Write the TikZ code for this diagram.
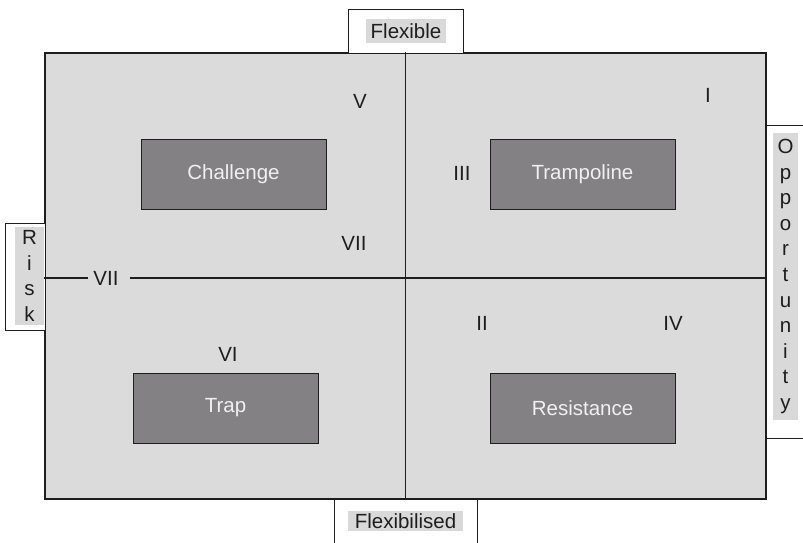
\documentclass[tikz,border=0pt]{standalone}
\usepackage{fontspec}
\setmainfont{Liberation Sans}
\definecolor{panel}{HTML}{DBDBDC}
\definecolor{darkbox}{HTML}{838184}
\definecolor{hilite}{HTML}{D9D9D9}
\definecolor{ink}{HTML}{1E1E1E}
\tikzset{
  lbl/.style={font=\fontsize{20.5}{25.6}\selectfont, text=ink, inner sep=0pt},
  quad/.style={draw=ink, line width=1pt, fill=darkbox, minimum width=185pt, minimum height=70pt,
     font=\fontsize{20.5}{25.6}\selectfont, text=white!94!black},
  axisbox/.style={draw=ink, line width=1pt, fill=white},
  hl/.style={fill=hilite, inner sep=0pt, align=center, font=\fontsize{20.5}{25.6}\selectfont, text=ink},
  divider/.style={draw=ink, line width=1.3pt}
}
\begin{document}
\begin{tikzpicture}[x=1pt,y=-1pt]
\clip (0,0) rectangle (803,542);
\fill[white] (0,0) rectangle (803,542);
% main panel
\node[draw=ink, line width=1.4pt, fill=panel, minimum width=721pt, minimum height=446pt, inner sep=0pt] (main) at (405.5,276) {};
% axis boxes
\node[axisbox, minimum width=115pt, minimum height=44pt, inner sep=0pt] (flex) at (405.5,31) {};
\node[hl, minimum width=80pt, minimum height=24pt] (flext) at (406,31) {Flexible};
\node[axisbox, minimum width=143pt, minimum height=60pt, inner sep=0pt] (flexd) at (405.5,529) {};
\node[hl, minimum width=115pt, minimum height=20pt] (flexdt) at (405.5,521) {Flexibilised};
\node[axisbox, minimum width=40pt, minimum height=107pt, inner sep=0pt] (risk) at (25,276.5) {};
\node[hl, minimum width=29pt, minimum height=98pt] (riskt) at (29.5,276) {R\\i\\s\\k};
\node[axisbox, minimum width=50pt, minimum height=313pt, inner sep=0pt] (opp) at (791,281.5) {};
\node[hl, minimum width=25pt, minimum height=287pt] (oppt) at (785.5,276.5) {O\\p\\p\\o\\r\\t\\u\\n\\i\\t\\y};
% dividers
\node[lbl] (vii) at (106,278) {VII};
\draw[divider] (main.north) -- (main.south);
\draw[divider] (main.west |- vii) -- ([xshift=-5pt]vii.west);
\draw[divider] ([xshift=11pt]vii.east) -- (main.east |- vii);
% quadrant boxes
\node[quad] (challenge) at (233.5,174) {Challenge};
\node[quad] (trampoline) at (582.5,174) {Trampoline};
\node[quad] (trap) at (225.5,408) {Trap};
\node[quad] (resistance) at (582.5,408) {Resistance};
% roman numerals
\node[lbl] (v) at (360,101) {V};
\node[lbl] (i) at (708,95) {I};
\node[lbl] (iii) at (462,173) {III};
\node[lbl] (vii2) at (354,243) {VII};
\node[lbl] (ii) at (482,323) {II};
\node[lbl] (iv) at (673,323) {IV};
\node[lbl] (vi) at (228,354) {VI};
\end{tikzpicture}
\end{document}
